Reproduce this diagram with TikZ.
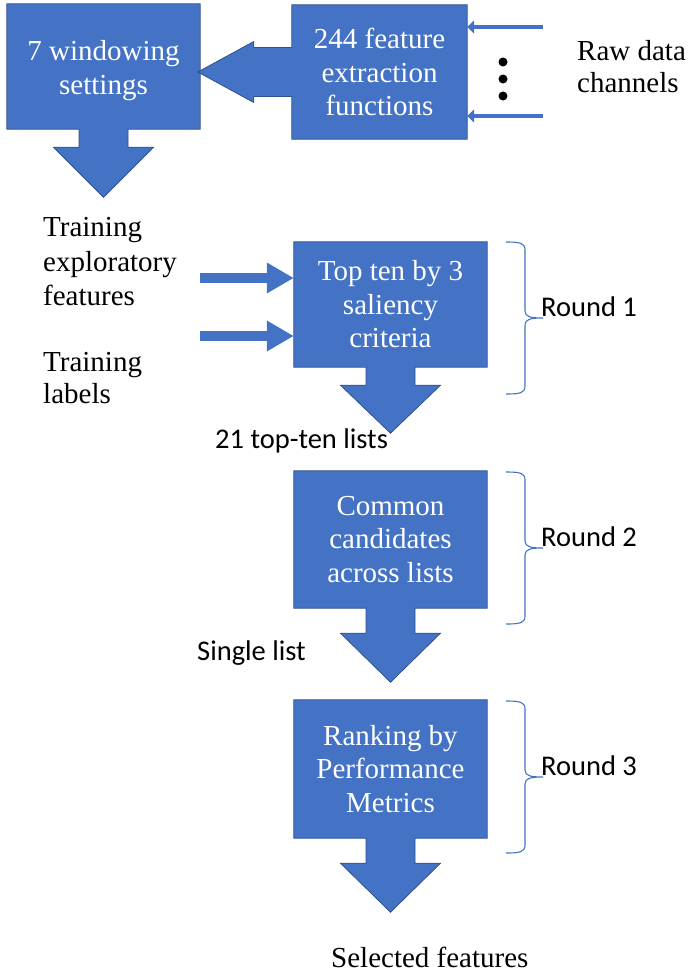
\documentclass[tikz,border=0pt]{standalone}
\usepackage{fontspec}
\setmainfont{Liberation Serif}
\newfontfamily\calibrifont{Carlito}
\usetikzlibrary{arrows.meta,calc}
\pgfdeclarelayer{background}
\pgfsetlayers{background,main}
\definecolor{boxblue}{HTML}{4472C4}
\definecolor{boxedge}{HTML}{2F528F}

\tikzset{
  stagebox/.style={rectangle, inner sep=0pt, text=white, align=center,
    font=\fontsize{29pt}{33.5pt}\selectfont},
  callout/.style={fill=boxblue, draw=boxedge, line width=0.8pt, line join=miter},
  label serif/.style={inner sep=0pt, align=left, font=\fontsize{29pt}{34pt}\selectfont},
  label sans/.style={inner sep=0pt, font=\calibrifont\fontsize{28.5pt}{34pt}\selectfont},
  feed/.style={draw=boxblue, line width=10pt, -{Triangle[length=27pt,width=29pt]}},
  rawfeed/.style={draw=boxblue, line width=4.5pt, -{Triangle[length=7pt,width=13pt]}},
  brace/.style={draw=boxblue, line width=1.1pt},
}

% box with a block arrow hanging below it: #1 node, #2 shaft length, #3 depth of the tip
\newcommand{\downcallout}[3]{%
  \path[callout] (#1.north west) -- (#1.north east) -- (#1.south east)
    -- ($(#1.south)+(24.5,0)$) -- ($(#1.south)+(24.5,#2)$) -- ($(#1.south)+(50,#2)$)
    -- ($(#1.south)+(0,#3)$) -- ($(#1.south)+(-50,#2)$) -- ($(#1.south)+(-24.5,#2)$)
    -- ($(#1.south)+(-24.5,0)$) -- (#1.south west) -- cycle;}

% right curly brace from y=#1 to y=#2
\newcommand{\roundbrace}[2]{%
  \pgfmathsetmacro{\bt}{#1}\pgfmathsetmacro{\bb}{#2}\pgfmathsetmacro{\bm}{(#1+#2)/2}%
  \draw[brace] (506,\bt) .. controls (520,\bt) and (525,\bt+1) .. (525,\bt+8)
    -- (525,\bm-7) .. controls (525,\bm-1) and (531,\bm) .. (543,\bm)
    .. controls (531,\bm) and (525,\bm+1) .. (525,\bm+7)
    -- (525,\bb-8) .. controls (525,\bb-1) and (520,\bb) .. (506,\bb);}

\begin{document}
\begin{tikzpicture}[x=1pt, y=-1pt]
\useasboundingbox (0,0) rectangle (689,972);

% stages
\node[stagebox, minimum width=193pt, minimum height=125pt] (win) at (103.5,66.5) {\rule{0pt}{28pt}7 windowing\\settings};
\node[stagebox, minimum width=175pt, minimum height=134pt] (feat) at (379.5,72) {244 feature\\extraction\\functions};
\node[stagebox, minimum width=193pt, minimum height=125pt] (top) at (390.5,304.5) {Top ten by 3\\saliency\\criteria};
\node[stagebox, minimum width=193pt, minimum height=137pt] (common) at (390.5,539.5) {Common\\candidates\\across lists};
\node[stagebox, minimum width=193pt, minimum height=138pt] (rank) at (390.5,769) {Ranking by\\Performance\\Metrics};

% callout bodies
\begin{pgfonlayer}{background}
  \downcallout{win}{18}{68}
  \downcallout{top}{18}{66}
  \downcallout{common}{25}{74}
  \downcallout{rank}{25}{74}
  \path[callout] (feat.north west) -- (feat.north east) -- (feat.south east) -- (feat.south west)
    -- ($(feat.west)+(0,24.5)$) -- ($(feat.west)+(-38,24.5)$) -- ($(feat.west)+(-38,30.5)$)
    -- ($(feat.west)+(-94,0)$) -- ($(feat.west)+(-38,-30.5)$) -- ($(feat.west)+(-38,-24.5)$)
    -- ($(feat.west)+(0,-24.5)$) -- cycle;
\end{pgfonlayer}

% raw data inputs
\coordinate (rawA) at (543,27);
\coordinate (rawB) at (543,116);
\draw[rawfeed] (rawA) -- (rawA -| feat.east);
\draw[rawfeed] (rawB) -- (rawB -| feat.east);
\fill (503,62) circle[radius=4.5pt];
\fill (503,79) circle[radius=4.5pt];
\fill (503,96) circle[radius=4.5pt];
\node[label serif, anchor=north west, font=\fontsize{29pt}{32pt}\selectfont] (raw) at (577,40) {Raw data\\channels};

% training inputs
\node[label serif, anchor=north west, font=\fontsize{29pt}{34.5pt}\selectfont] (trainfeat) at (43,217.5) {Training\\exploratory\\features};
\node[label serif, anchor=north west, font=\fontsize{29pt}{32pt}\selectfont] (trainlab) at (43,352.5) {Training\\labels};
\coordinate (featin) at (200,278);
\coordinate (labin) at (200,336);
\draw[feed] (featin) -- (featin -| top.west);
\draw[feed] (labin) -- (labin -| top.west);

% intermediate and final labels
\node[label sans, anchor=base west] (lists) at (215,448) {21 top-ten lists};
\node[label sans, anchor=base west] (single) at (197,660) {Single list};
\node[label serif, anchor=base west] (selected) at (331,967) {Selected features};

% rounds
\roundbrace{242}{394}
\roundbrace{472}{624}
\roundbrace{701}{853}
\node[label sans, anchor=base west] (round1) at (541,316) {Round 1};
\node[label sans, anchor=base west] (round2) at (541,546) {Round 2};
\node[label sans, anchor=base west] (round3) at (541,775) {Round 3};
\end{tikzpicture}
\end{document}
